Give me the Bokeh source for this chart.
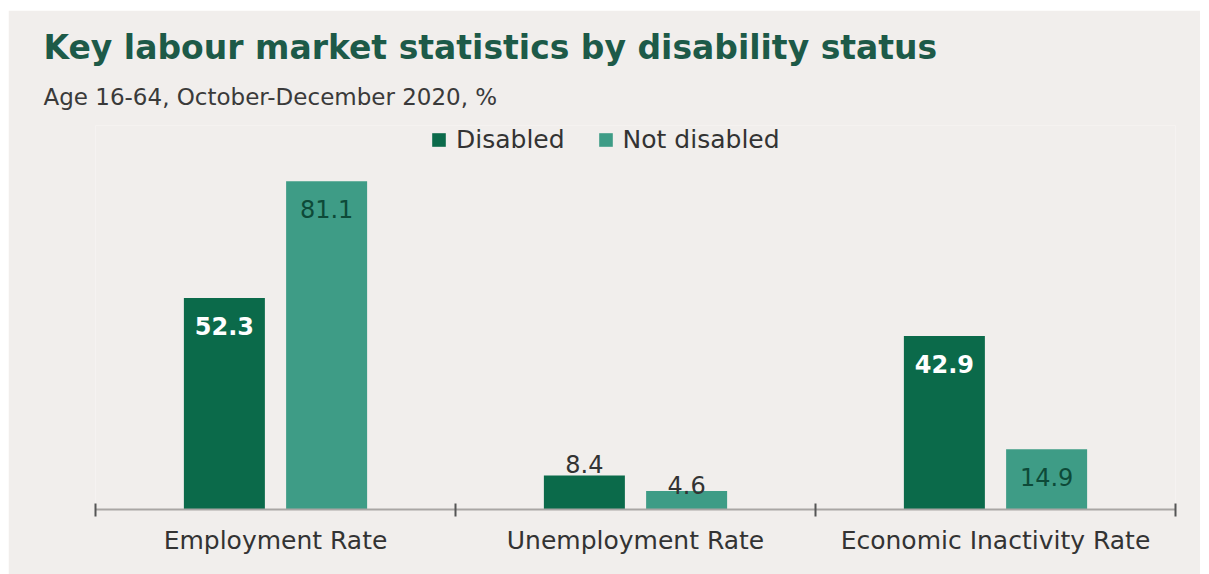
from bokeh.plotting import figure
from bokeh.models import (ColumnDataSource, Range1d, FixedTicker, Title, Legend, LegendItem)
from bokeh.transform import dodge
from bokeh.embed import file_html
from bokeh.resources import INLINE
from bokeh.core.properties import value

categories = ["Employment Rate", "Unemployment Rate", "Economic Inactivity Rate"]
disabled = [52.3, 8.4, 42.9]
not_disabled = [81.1, 4.6, 14.9]
series_names = ["Disabled", "Not disabled"]

DARK = "#0b6a4a"
LIGHT = "#3e9c86"
BG = "#f1eeec"

xs = [i + 0.5 for i in range(len(categories))]
src = ColumnDataSource(dict(
    x=xs, cat=categories, dis=disabled, nd=not_disabled,
    dis_lbl=[f"{v:.1f}" for v in disabled],
    nd_lbl=[f"{v:.1f}" for v in not_disabled],
))

p = figure(width=1192, height=564, output_backend="svg", toolbar_location=None,
           x_range=Range1d(0, 3), y_range=Range1d(0, 94.9),
           min_border_left=87, min_border_right=25, min_border_top=115,
           min_border_bottom=65, background_fill_color=BG, border_fill_color=BG,
           outline_line_color=None, title=None)
p.margin = (10, 9, 0, 8)

W = 0.225
r1 = p.vbar(x=dodge("x", -0.142, range=p.x_range), top="dis", width=W, bottom=0,
            source=src, fill_color=DARK, line_color=None)
r2 = p.vbar(x=dodge("x", 0.142, range=p.x_range), top="nd", width=W, bottom=0,
            source=src, fill_color=LIGHT, line_color=None)

inside_d = [i for i, v in enumerate(disabled) if v > 20]
outside_d = [i for i, v in enumerate(disabled) if v <= 20]
inside_n = [i for i, v in enumerate(not_disabled) if v > 10]
outside_n = [i for i, v in enumerate(not_disabled) if v <= 10]

def sub(idx, key_y, key_t, off):
    return ColumnDataSource(dict(x=[xs[i] + off for i in idx],
                                 y=[src.data[key_y][i] for i in idx],
                                 t=[src.data[key_t][i] for i in idx]))

FS = "24px"
p.text(x="x", y="y", text="t", source=sub(inside_d, "dis", "dis_lbl", -0.142),
       text_align="center", text_baseline="middle", y_offset=28,
       text_color="white", text_font=value("DejaVu Sans"), text_font_size=FS,
       text_font_style="bold")
p.text(x="x", y="y", text="t", source=sub(outside_d, "dis", "dis_lbl", -0.142),
       text_align="center", text_baseline="bottom", y_offset=-3,
       text_color="#333333", text_font=value("DejaVu Sans"), text_font_size=FS)
p.text(x="x", y="y", text="t", source=sub(inside_n, "nd", "nd_lbl", 0.142),
       text_align="center", text_baseline="middle", y_offset=28,
       text_color="#0d4a38", text_font=value("DejaVu Sans"), text_font_size=FS)
p.text(x="x", y="y", text="t", source=sub(outside_n, "nd", "nd_lbl", 0.142),
       text_align="center", text_baseline="bottom", y_offset=3,
       text_color="#333333", text_font=value("DejaVu Sans"), text_font_size=FS)

p.yaxis.visible = False
p.xgrid.visible = False
p.ygrid.visible = False
ax = p.xaxis[0]
ax.ticker = FixedTicker(ticks=xs, minor_ticks=list(range(len(categories) + 1)))
ax.major_label_overrides = {x: c for x, c in zip(xs, categories)}
ax.major_tick_line_color = None
ax.minor_tick_line_color = "#555555"
ax.minor_tick_line_width = 2
ax.minor_tick_in = 6
ax.minor_tick_out = 7
ax.axis_line_color = "#a9a6a4"
ax.axis_line_width = 2
ax.major_label_text_font = "DejaVu Sans"
ax.major_label_text_font_size = "25px"
ax.major_label_text_color = "#333333"
ax.major_label_standoff = 9

legend = Legend(items=[LegendItem(label=series_names[0], renderers=[r1]),
                       LegendItem(label=series_names[1], renderers=[r2])],
                orientation="horizontal", location=(335, 355),
                background_fill_alpha=0, border_line_color=None,
                label_text_font="DejaVu Sans", label_text_font_size="25px",
                label_text_color="#333333", glyph_width=17, glyph_height=17,
                label_standoff=9, spacing=32, padding=0, margin=0)
p.add_layout(legend, "center")

p.add_layout(Title(text="Age 16-64, October-December 2020, %",
                   text_font="DejaVu Sans", text_font_size="23px", text_font_style="normal",
                   text_color="#3a3a3a", align="left", offset=-52, standoff=31), "above")
p.add_layout(Title(text="Key labour market statistics by disability status",
                   text_font="DejaVu Sans", text_font_size="33px", text_font_style="bold",
                   text_color="#1d5a48", align="left", offset=-52, standoff=0), "above")

open("out.html", "w").write(file_html(p, INLINE))
